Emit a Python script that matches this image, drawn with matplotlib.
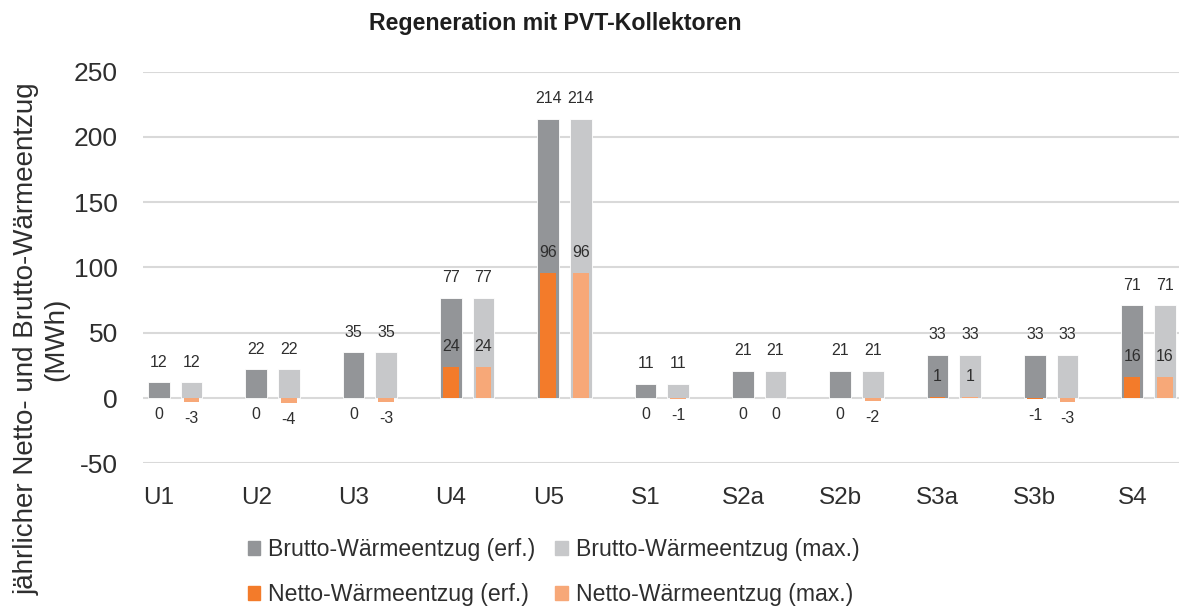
import numpy as np
import matplotlib
matplotlib.use('Agg')
import matplotlib.pyplot as plt
from matplotlib.patches import Patch

plt.rcParams['font.family'] = ['Liberation Sans', 'DejaVu Sans']
plt.rcParams['axes.unicode_minus'] = False

# Kategorien und Werte (MWh)
standorte = ['U1', 'U2', 'U3', 'U4', 'U5', 'S1', 'S2a', 'S2b', 'S3a', 'S3b', 'S4']
brutto_erf = [12, 22, 35, 77, 214, 11, 21, 21, 33, 33, 71]
brutto_max = [12, 22, 35, 77, 214, 11, 21, 21, 33, 33, 71]
netto_erf = [0, 0, 0, 24, 96, 0, 0, 0, 1, -1, 16]
netto_max = [-3, -4, -3, 24, 96, -1, 0, -2, 1, -3, 16]

c_brutto_erf = '#939598'
c_brutto_max = '#C7C8CA'
c_netto_erf = '#F37B2A'
c_netto_max = '#F7A878'
txt = '#2E2E2E'

fig = plt.figure(figsize=(11.79, 6.10), dpi=100)
ax = fig.add_axes([0.1213, 0.2405, 0.8787, 0.642])

x = np.arange(len(standorte))
off = 0.334
wb = 0.223
wn = 0.161

ax.bar(x, brutto_erf, wb, color=c_brutto_erf, edgecolor='white', linewidth=0.6, zorder=2)
ax.bar(x + off, brutto_max, wb, color=c_brutto_max, edgecolor='white', linewidth=0.6, zorder=2)
ax.bar(x, netto_erf, wn, color=c_netto_erf, zorder=3)
ax.bar(x + off, netto_max, wn, color=c_netto_max, zorder=3)

def beschriften(xpos, werte):
    for xi, v in zip(xpos, werte):
        dy = 14.5 if v > 0 else -12
        ax.annotate(str(v), (xi, v), xytext=(0, dy), textcoords='offset points',
                    ha='center', va='center', fontsize=11.5, color=txt, zorder=4)

beschriften(x, brutto_erf)
beschriften(x + off, brutto_max)
beschriften(x, netto_erf)
beschriften(x + off, netto_max)

ax.set_ylim(-50, 250)
ax.set_yticks(np.arange(-50, 251, 50))
ax.set_xlim(-0.164, 10.48)
ax.set_xticks(x)
ax.set_xticklabels(standorte)
ax.tick_params(axis='x', length=0, pad=17, labelsize=17.5, labelcolor=txt)
ax.tick_params(axis='y', length=0, pad=18, labelsize=19, labelcolor=txt)
ax.grid(axis='y', color='#D9D9D9', linewidth=1.5, zorder=0)
ax.set_axisbelow(True)
for s in ax.spines.values():
    s.set_visible(False)

fig.text(0.471, 0.961, 'Regeneration mit PVT-Kollektoren', ha='center', va='center',
         fontsize=16.7, fontweight='bold', color='#1E1E1E')
fig.text(0.035, 0.444, 'jährlicher Netto- und Brutto-Wärmeentzug\n(MWh)', rotation=90,
         ha='center', va='center', multialignment='center', fontsize=20, color=txt)

handles = [Patch(color=c_brutto_erf), Patch(color=c_netto_erf),
           Patch(color=c_brutto_max), Patch(color=c_netto_max)]
labels = ['Brutto-Wärmeentzug (erf.)', 'Netto-Wärmeentzug (erf.)',
          'Brutto-Wärmeentzug (max.)', 'Netto-Wärmeentzug (max.)']
fig.legend(handles, labels, ncol=2, loc='center', bbox_to_anchor=(0.4695, 0.062),
           frameon=False, fontsize=16.6, handlelength=0.55, handleheight=0.55,
           handletextpad=0.35, columnspacing=0.85, labelspacing=0.95, labelcolor=txt)

fig.savefig('out.png', dpi=100)
